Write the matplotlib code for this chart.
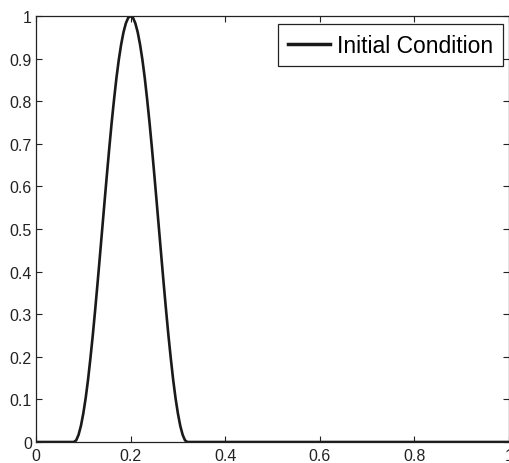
import numpy as np
import matplotlib.pyplot as plt

plt.rcParams['font.family'] = ['Liberation Sans', 'DejaVu Sans']

# values
x = [0.0, 0.08, 0.085, 0.09, 0.095, 0.10, 0.105, 0.11, 0.115, 0.12, 0.125,
     0.13, 0.135, 0.14, 0.145, 0.15, 0.155, 0.16, 0.165, 0.17, 0.175,
     0.18, 0.185, 0.19, 0.195, 0.20, 0.205, 0.21, 0.215, 0.22, 0.225,
     0.23, 0.235, 0.24, 0.245, 0.25, 0.255, 0.26, 0.265, 0.27, 0.275,
     0.28, 0.285, 0.29, 0.295, 0.30, 0.305, 0.31, 0.315, 0.32, 1.0]
y = [0.0, 0.0, 0.004, 0.017, 0.038, 0.067, 0.103, 0.146, 0.196, 0.25, 0.309,
     0.371, 0.435, 0.5, 0.565, 0.629, 0.691, 0.75, 0.804, 0.854, 0.897,
     0.933, 0.962, 0.983, 0.996, 1.0, 0.996, 0.983, 0.962, 0.933, 0.897,
     0.854, 0.804, 0.75, 0.691, 0.629, 0.565, 0.5, 0.435, 0.371, 0.309,
     0.25, 0.196, 0.146, 0.103, 0.067, 0.038, 0.017, 0.004, 0.0, 0.0]

xticks = [0, 0.2, 0.4, 0.6, 0.8, 1]
xticklabels = ['0', '0.2', '0.4', '0.6', '0.8', '1']
yticks = [0, 0.1, 0.2, 0.3, 0.4, 0.5, 0.6, 0.7, 0.8, 0.9, 1]
yticklabels = ['0', '0.1', '0.2', '0.3', '0.4', '0.5', '0.6', '0.7', '0.8', '0.9', '1']

fig = plt.figure(figsize=(5.09, 4.64), dpi=100)
ax = fig.add_axes([36 / 509, 21 / 464, 473 / 509, 426 / 464])

ax.plot(x, y, color='#1a1a1a', lw=1.9, label='Initial Condition')

ax.set_xlim(0, 1)
ax.set_ylim(0, 1)
ax.set_xticks(xticks)
ax.set_xticklabels(xticklabels)
ax.set_yticks(yticks)
ax.set_yticklabels(yticklabels)
ax.tick_params(direction='in', top=True, right=True, length=4, width=0.8,
               labelsize=11.5, colors='#222222')
ax.tick_params(axis='x', pad=4)
ax.tick_params(axis='y', pad=3)
for s in ax.spines.values():
    s.set_linewidth(0.9)
    s.set_color('#222222')

leg = ax.legend(loc='upper right', bbox_to_anchor=(0.987, 0.981), borderaxespad=0,
                fontsize=16.5, fancybox=False, framealpha=1, edgecolor='#222222',
                handlelength=1.85, handletextpad=0.3, borderpad=0.42)
leg.get_frame().set_linewidth(0.9)
leg.get_lines()[0].set_linewidth(2.5)

fig.savefig('out.png', dpi=100)
